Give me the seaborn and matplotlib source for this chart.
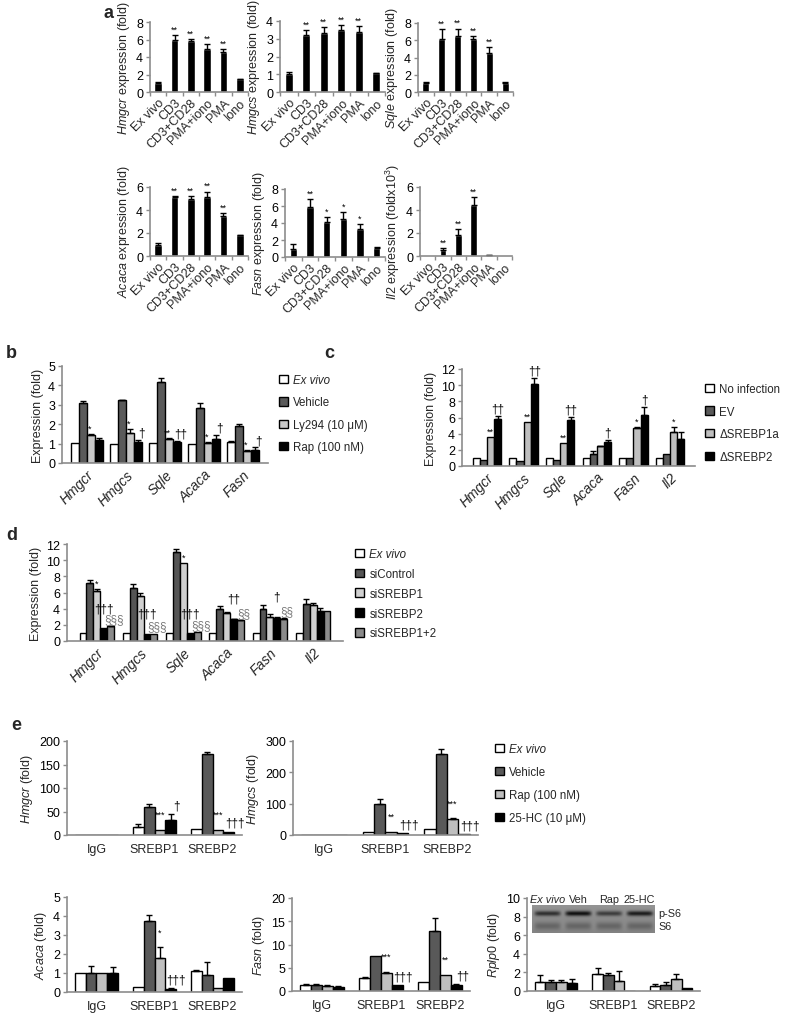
import numpy as np
import pandas as pd
import seaborn as sns
import matplotlib.pyplot as plt
from matplotlib.patches import Patch

sns.set_style("ticks")
plt.rcParams["font.family"] = ["Liberation Sans", "DejaVu Sans"]
plt.rcParams["mathtext.fontset"] = "custom"
plt.rcParams["mathtext.rm"] = "Liberation Sans"
plt.rcParams["mathtext.it"] = "Liberation Sans:italic"
plt.rcParams["font.size"] = 8

W, H = 791, 1020
GRAY = "#8c8c8c"

# ---------------- panel a: single bars ----------------
conds_a = ["Ex vivo", "CD3", "CD3+CD28", "PMA+iono", "PMA", "Iono"]
hmgcr_a = [1.0, 5.9, 5.85, 4.95, 4.6, 1.45]
hmgcr_a_err = [0.2, 0.6, 0.25, 0.55, 0.3, 0.05]
hmgcs_a = [1.0, 3.2, 3.35, 3.5, 3.4, 1.05]
hmgcs_a_err = [0.15, 0.3, 0.3, 0.25, 0.3, 0.02]
sqle_a = [1.0, 6.2, 6.45, 6.1, 4.5, 1.05]
sqle_a_err = [0.2, 1.1, 0.9, 0.35, 0.7, 0.1]
acaca_a = [1.0, 5.1, 4.95, 5.1, 3.5, 1.8]
acaca_a_err = [0.15, 0.1, 0.25, 0.5, 0.2, 0.05]
fasn_a = [1.0, 5.9, 4.15, 4.45, 3.25, 1.05]
fasn_a_err = [0.5, 0.9, 0.5, 0.85, 0.6, 0.15]
il2_a = [0.0, 0.5, 1.85, 4.4, 0.08, 0.0]
il2_a_err = [0.0, 0.2, 0.5, 0.75, 0.02, 0.0]
stars4 = ["", "**", "**", "**", "**", ""]
fasn_a_stars = ["", "**", "*", "*", "*", ""]
il2_a_stars = ["", "**", "**", "**", "", ""]

# ---------------- panel b ----------------
genes_b = ["Hmgcr", "Hmgcs", "Sqle", "Acaca", "Fasn"]
groups_b = ["Ex vivo", "Vehicle", "Ly294 (10 μM)", "Rap (100 nM)"]
colors_b = ["white", "#5a5a5a", "#c8c8c8", "black"]
vals_b = [[1.05, 1.0, 1.05, 1.0, 1.1],
          [3.1, 3.25, 4.2, 2.85, 1.9],
          [1.45, 1.55, 1.25, 1.05, 0.6],
          [1.2, 1.1, 1.1, 1.25, 0.65]]
errs_b = [[0, 0, 0, 0, 0.05],
          [0.1, 0.02, 0.2, 0.25, 0.1],
          [0.05, 0.2, 0.05, 0.05, 0.05],
          [0.1, 0.1, 0.05, 0.2, 0.15]]
marks_b_ly = ["*", "*", "**", "*", "*"]
marks_b_rap = ["", "†", "††", "†", "†"]

# ---------------- panel c ----------------
genes_c = ["Hmgcr", "Hmgcs", "Sqle", "Acaca", "Fasn", "Il2"]
groups_c = ["No infection", "EV", "ΔSREBP1a", "ΔSREBP2"]
colors_c = ["white", "#595959", "#bfbfbf", "black"]
vals_c = [[1.0, 1.0, 1.0, 1.0, 1.0, 1.0],
          [0.7, 0.65, 0.8, 1.5, 0.95, 1.45],
          [3.6, 5.4, 2.8, 2.45, 4.65, 4.2],
          [5.85, 10.1, 5.75, 2.95, 6.3, 3.4]]
errs_c = [[0, 0, 0, 0, 0, 0],
          [0, 0, 0, 0.4, 0, 0],
          [0, 0, 0, 0.05, 0.2, 0.6],
          [0.35, 0.8, 0.35, 0.3, 1.0, 0.75]]
marks_c = [None, None, ["**", "**", "**", "", "*", "*"], ["††", "††", "††", "†", "†", ""]]

# ---------------- panel d ----------------
genes_d = ["Hmgcr", "Hmgcs", "Sqle", "Acaca", "Fasn", "Il2"]
groups_d = ["Ex vivo", "siControl", "siSREBP1", "siSREBP2", "siSREBP1+2"]
colors_d = ["white", "#555555", "#d0d0d0", "black", "#8a8a8a"]
vals_d = [[1.0, 1.0, 1.0, 1.0, 1.0, 1.0],
          [7.2, 6.6, 11.0, 4.0, 4.0, 4.6],
          [6.2, 5.6, 9.6, 3.5, 3.0, 4.45],
          [1.6, 0.9, 1.0, 2.7, 2.9, 3.75],
          [1.8, 0.9, 1.1, 2.55, 2.7, 3.7]]
errs_d = [[0, 0, 0, 0, 0, 0],
          [0.4, 0.4, 0.4, 0.35, 0.4, 0.6],
          [0.2, 0.3, 0, 0.1, 0.4, 0.3],
          [0, 0, 0, 0.05, 0.1, 0.35],
          [0.05, 0, 0, 0.05, 0.1, 0]]
marks_d_si1 = ["*", "", "*", "", "", ""]
marks_d_si2 = ["†††", "†††", "†††", "††", "†", ""]
marks_d_si12 = ["§§§", "§§§", "§§§", "§§", "§§", ""]

# ---------------- panel e (ChIP) ----------------
sites_e = ["IgG", "SREBP1", "SREBP2"]
groups_e = ["Ex vivo", "Vehicle", "Rap (100 nM)", "25-HC (10 μM)"]
colors_e = ["white", "#595959", "#bfbfbf", "black"]
hmgcr_e = [[1, 17, 12], [1, 60, 172], [1, 10, 10], [1, 32, 7]]
hmgcr_e_err = [[0, 6, 0], [0, 6, 5], [0, 0, 0], [0, 12, 0]]
hmgcr_e_marks = [["", "***", "***"], ["", "†", "†††"]]
hmgcs_e = [[1, 10, 20], [1, 100, 258], [1, 10, 50], [1, 5, 2]]
hmgcs_e_err = [[0, 0, 0], [0, 15, 15], [0, 0, 3], [0, 0, 0]]
hmgcs_e_marks = [["", "**", "***"], ["", "†††", "†††"]]
acaca_e = [[1.0, 0.25, 1.1], [1.0, 3.75, 0.9], [1.0, 1.8, 0.2], [1.0, 0.15, 0.75]]
acaca_e_err = [[0, 0, 0.05], [0.35, 0.3, 0.7], [0, 0.55, 0], [0.3, 0.05, 0]]
acaca_e_marks = [["", "*", ""], ["", "†††", ""]]
fasn_e = [[1.2, 2.8, 2.0], [1.3, 7.5, 12.8], [1.1, 3.9, 3.5], [0.95, 1.2, 1.2]]
fasn_e_err = [[0.2, 0.2, 0], [0.3, 0, 2.8], [0.1, 0.2, 0], [0.05, 0, 0.3]]
fasn_e_marks = [["", "***", "**"], ["", "†††", "††"]]
rplp0_e = [[1.0, 1.85, 0.55], [0.95, 1.7, 0.6], [0.95, 1.1, 1.3], [0.9, 0.05, 0.35]]
rplp0_e_err = [[0.7, 0.6, 0.2], [0.2, 0.2, 0.35], [0.2, 1.1, 0.55], [0.4, 0, 0]]

# western blot inset (relative band strength)
lanes_blot = ["Ex vivo", "Veh", "Rap", "25-HC"]
ps6_band = [0.75, 1.0, 0.65, 0.9]
s6_band = [0.45, 0.45, 0.45, 0.45]

fig = plt.figure(figsize=(W / 100, H / 100), dpi=100)


def box(x0, x1, ytop, ybot):
    return fig.add_axes([x0 / W, 1 - ybot / H, (x1 - x0) / W, (ybot - ytop) / H])


def style(ax, ylim, yticks, ylabel, fs=9, label_y=0.5):
    ax.set_ylim(ylim)
    ax.set_yticks(yticks)
    sns.despine(ax=ax)
    for s in ["left", "bottom"]:
        ax.spines[s].set_color(GRAY)
        ax.spines[s].set_linewidth(1.2)
    ax.tick_params(axis="y", color=GRAY, labelcolor="black", length=3, width=1, labelsize=9, pad=2)
    ax.tick_params(axis="x", which="major", length=0, labelsize=fs, pad=3)
    ax.set_xlabel("")
    ax.set_ylabel(ylabel, fontsize=9, labelpad=3, y=label_y)


def rotate(ax, italic=False):
    for lbl in ax.get_xticklabels():
        lbl.set_rotation(45)
        lbl.set_ha("right")
        lbl.set_rotation_mode("anchor")
        if italic:
            lbl.set_fontstyle("italic")


def mark(ax, x, y, s, color="black", pts=1.0):
    if not s:
        return
    fs = 6.5 if "*" in s else 8.5
    ax.annotate(s, (x, y), xytext=(0, pts), textcoords="offset points",
                ha="center", va="bottom", fontsize=fs, color=color)


def errbars(ax, xs, hs, es):
    xs, hs, es = np.array(xs), np.array(hs), np.array(es, dtype=float)
    ok = es > 0
    if ok.any():
        ax.errorbar(xs[ok], hs[ok], yerr=[np.zeros(ok.sum()), es[ok]], fmt="none",
                    ecolor="black", elinewidth=1, capsize=2.5, capthick=1)


def single(ax, vals, errs, stars):
    sns.barplot(x=conds_a, y=vals, color="black", width=0.45, saturation=1,
                errorbar=None, ax=ax)
    bars = ax.containers[0]
    xs = [b.get_x() + b.get_width() / 2 for b in bars]
    errbars(ax, xs, vals, errs)
    for x, v, e, s in zip(xs, vals, errs, stars):
        mark(ax, x, v + e, s)
    ax.set_xlim(-0.5, len(conds_a) - 0.5)
    ax.set_xticks(np.arange(-0.5, len(conds_a)), minor=True)
    ax.tick_params(axis="x", which="minor", length=3, color=GRAY, width=1)


def grouped(ax, cats, groups, vals, errs, colors, width, marks=None):
    rows = [(c, g, v) for g, vs in zip(groups, vals) for c, v in zip(cats, vs)]
    df = pd.DataFrame(rows, columns=["cat", "grp", "val"])
    sns.barplot(data=df, x="cat", y="val", hue="grp", order=cats, hue_order=groups,
                palette=colors, width=width, saturation=1, edgecolor="black",
                linewidth=1, errorbar=None, legend=False, ax=ax)
    pos = []
    for cont, vs, es in zip(ax.containers, vals, errs):
        xs = [b.get_x() + b.get_width() / 2 for b in cont]
        errbars(ax, xs, vs, es)
        pos.append(xs)
    if marks is not None:
        for xs, vs, es, ms in zip(pos, vals, errs, marks):
            if ms is None:
                continue
            for x, v, e, s in zip(xs, vs, es, ms):
                mark(ax, x, v + e, s)
    return pos


def legend(groups, colors, x, ytop, spacing, italic_first=True):
    handles = [Patch(facecolor=c, edgecolor="black", linewidth=1) for c in colors]
    leg = fig.legend(handles, groups, loc="upper left", bbox_to_anchor=(x / W, 1 - ytop / H),
                     frameon=False, fontsize=8.3, handlelength=0.75, handleheight=0.75,
                     handletextpad=0.5, borderpad=0, borderaxespad=0, labelspacing=spacing)
    if italic_first:
        leg.get_texts()[0].set_fontstyle("italic")


def panel_label(x, y, s):
    fig.text(x / W, 1 - y / H, s, fontsize=13, fontweight="bold", ha="left", va="center")


# ----- panel a -----
panel_label(104, 13, "a")
a_specs = [
    ((150, 248, 23, 93), hmgcr_a, hmgcr_a_err, stars4, (0, 8), [0, 2, 4, 6, 8], "Hmgcr", ""),
    ((280, 385, 22, 93), hmgcs_a, hmgcs_a_err, stars4, (0, 4), [0, 1, 2, 3, 4], "Hmgcs", ""),
    ((418, 513, 24, 93), sqle_a, sqle_a_err, stars4, (0, 8), [0, 2, 4, 6, 8], "Sqle", ""),
    ((150, 248, 188, 257), acaca_a, acaca_a_err, stars4, (0, 6), [0, 2, 4, 6], "Acaca", ""),
    ((285, 385, 190, 258), fasn_a, fasn_a_err, fasn_a_stars, (0, 8), [0, 2, 4, 6, 8], "Fasn", ""),
    ((420, 512, 188, 257), il2_a, il2_a_err, il2_a_stars, (0, 6), [0, 2, 4, 6], "Il2", "x10$^3$"),
]
for rect, v, e, st, yl, yt, gene, extra in a_specs:
    ax = box(*rect)
    single(ax, v, e, st)
    style(ax, yl, yt, r"$\it{" + gene + r"}$ expression (fold" + extra + ")", fs=9, label_y=0.36)
    rotate(ax)

# ----- panel b -----
panel_label(6, 353, "b")
ax = box(62, 268, 367, 464)
pos = grouped(ax, genes_b, groups_b, vals_b, errs_b, colors_b, 0.8)
for i in range(len(genes_b)):
    mark(ax, pos[2][i] - 0.04, vals_b[2][i] + errs_b[2][i], marks_b_ly[i])
    mark(ax, pos[3][i] + 0.1, vals_b[3][i] + errs_b[3][i], marks_b_rap[i])
style(ax, (0, 5), range(6), "Expression (fold)", fs=10)
rotate(ax, italic=True)
legend(groups_b, colors_b, 279, 375, 0.9)

# ----- panel c -----
panel_label(324, 353, "c")
ax = box(462, 695, 370, 467)
grouped(ax, genes_c, groups_c, vals_c, errs_c, colors_c, 0.78, marks_c)
style(ax, (0, 12), range(0, 13, 2), "Expression (fold)", fs=10)
rotate(ax, italic=True)
legend(groups_c, colors_c, 705, 384, 0.92, italic_first=False)

# ----- panel d -----
panel_label(6, 535, "d")
ax = box(67, 343, 545, 642)
pos = grouped(ax, genes_d, groups_d, vals_d, errs_d, colors_d, 0.8)
for i in range(len(genes_d)):
    mark(ax, pos[2][i], vals_d[2][i] + errs_d[2][i], marks_d_si1[i])
    mark(ax, pos[3][i], vals_d[3][i] + errs_d[3][i], marks_d_si2[i], pts=10)
    mark(ax, pos[4][i] + 0.08, vals_d[4][i] + errs_d[4][i], marks_d_si12[i], color="#777777", pts=1)
style(ax, (0, 12), range(0, 13, 2), "Expression (fold)", fs=10)
rotate(ax, italic=True)
legend(groups_d, colors_d, 355, 549, 0.68)

# ----- panel e -----
panel_label(11, 725, "e")
e_specs = [
    ((67, 242, 742, 836), hmgcr_e, hmgcr_e_err, hmgcr_e_marks, (0, 200), range(0, 201, 50), "Hmgcr"),
    ((293, 478, 742, 836), hmgcs_e, hmgcs_e_err, hmgcs_e_marks, (0, 300), range(0, 301, 100), "Hmgcs"),
    ((67, 242, 898, 993), acaca_e, acaca_e_err, acaca_e_marks, (0, 5), range(0, 6), "Acaca"),
    ((292, 470, 899, 992), fasn_e, fasn_e_err, fasn_e_marks, (0, 20), range(0, 21, 5), "Fasn"),
    ((527, 700, 899, 992), rplp0_e, rplp0_e_err, None, (0, 10), range(0, 11, 2), "Rplp0"),
]
for rect, v, e, m, yl, yt, gene in e_specs:
    ax = box(*rect)
    pos = grouped(ax, sites_e, groups_e, v, e, colors_e, 0.74)
    if m is not None:
        rap_marks, hc_marks = m
        for i in range(len(sites_e)):
            mark(ax, pos[2][i], v[2][i] + e[2][i], rap_marks[i], pts=8)
            mark(ax, pos[3][i] + 0.1, v[3][i] + e[3][i], hc_marks[i], pts=2)
    style(ax, yl, yt, r"$\it{" + gene + r"}$ (fold)", fs=9)
    ax.tick_params(axis="x", pad=6)
legend(groups_e, colors_e, 495, 744, 0.95)

# blot inset in the Rplp0 panel
axb = box(532, 655, 906, 934)
yy = np.linspace(0, 1, 60)[:, None]
xx = np.linspace(0, len(lanes_blot), 240, endpoint=False)[None, :]
idx = xx.astype(int)
lane_shape = np.exp(-(((xx % 1) - 0.5) / 0.42) ** 8)
img = (0.58 - 0.06 * yy
       - 0.5 * np.array(ps6_band)[idx] * np.exp(-((yy - 0.3) / 0.09) ** 2) * lane_shape
       - 0.3 * np.array(s6_band)[idx] * np.exp(-((yy - 0.75) / 0.14) ** 2) * lane_shape)
axb.imshow(img, cmap="gray", vmin=0, vmax=1, aspect="auto", extent=(0, len(lanes_blot), 1, 0))
axb.set_xticks([])
axb.set_yticks([])
for s in axb.spines.values():
    s.set_visible(False)
for i, name in enumerate(lanes_blot):
    axb.text(i + 0.5, -0.05, name, ha="center", va="bottom", fontsize=7.8,
             fontstyle="italic" if i == 0 else "normal")
axb.text(len(lanes_blot) + 0.1, 0.3, "p-S6", ha="left", va="center", fontsize=7.8)
axb.text(len(lanes_blot) + 0.1, 0.75, "S6", ha="left", va="center", fontsize=7.8)

fig.savefig("out.png", dpi=100)
